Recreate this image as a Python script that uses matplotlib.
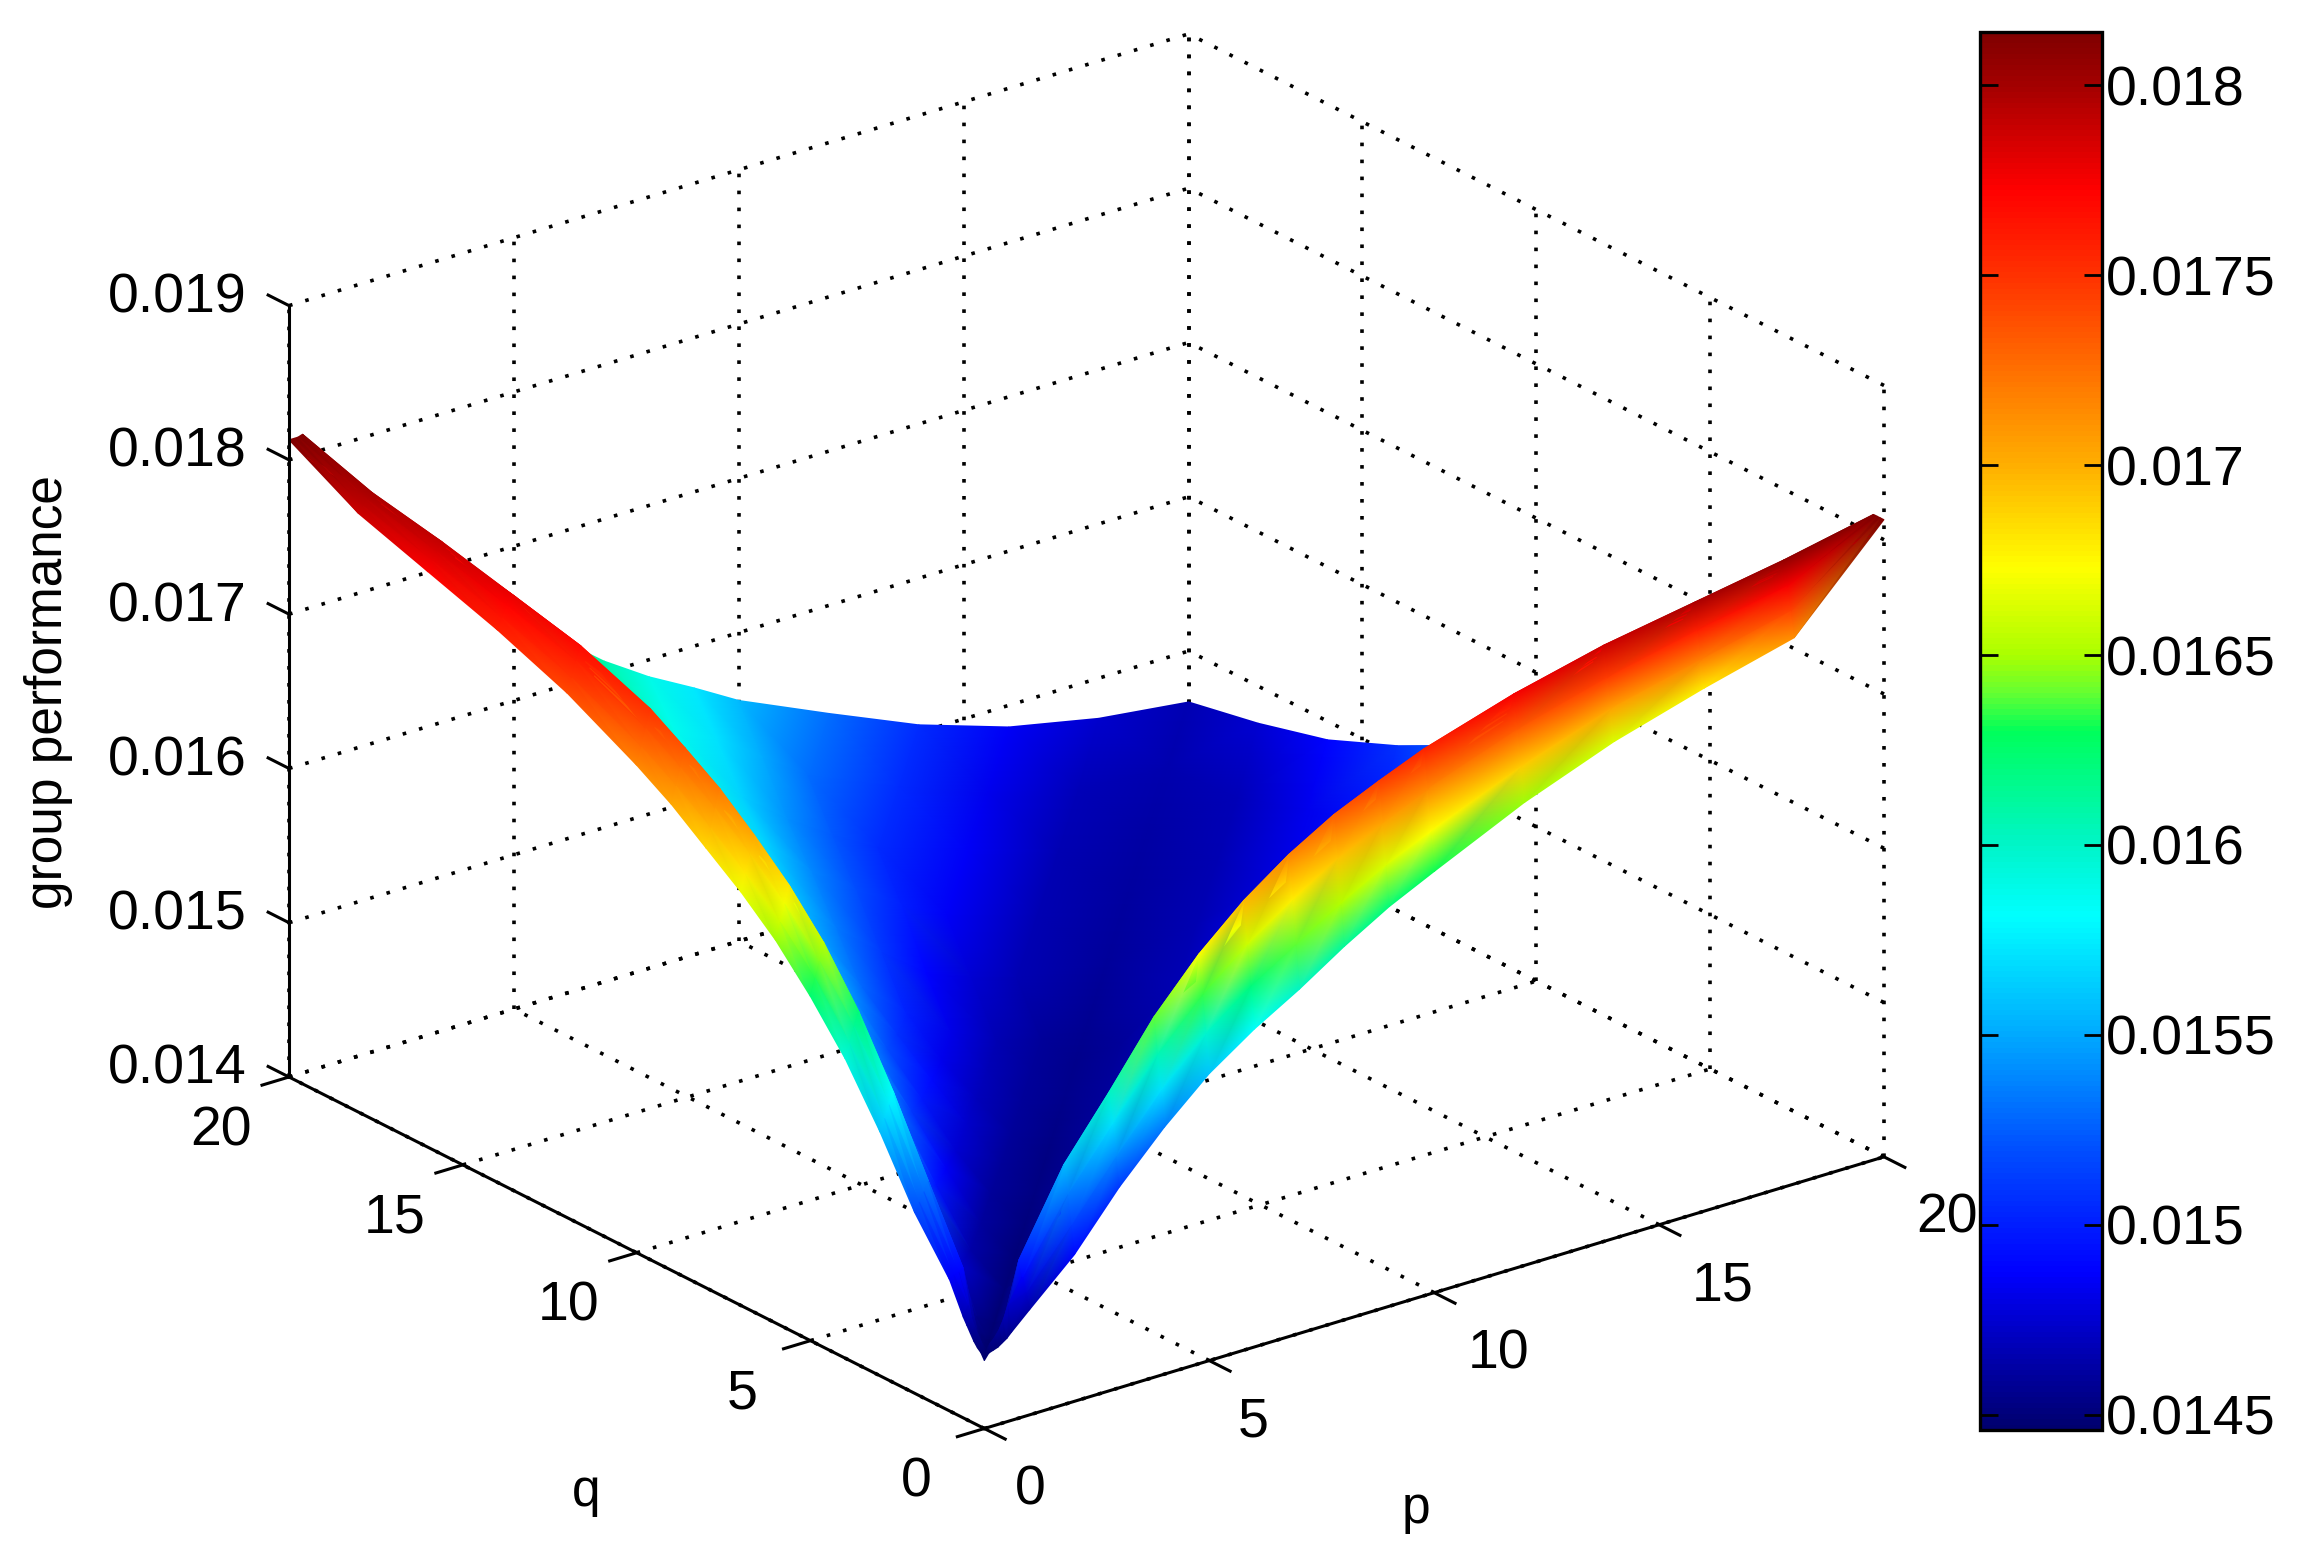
import numpy as np
import matplotlib
matplotlib.use("Agg")
import matplotlib.pyplot as plt
from matplotlib.colors import LinearSegmentedColormap, Normalize
from matplotlib.tri import Triangulation
from mpl_toolkits.mplot3d import proj3d

plt.rcParams['font.family'] = ['Liberation Sans', 'DejaVu Sans']

# grid of p and q, dense near the axes where the ridges are
grid_p = [0, .1, .2, .3, .4, .5, .6, 1, 2, 3, 4, 5, 6, 7, 8, 9, 10, 12, 14, 16, 18, 20]
grid_q = [0, .1, .2, .3, .4, .5, .6, 1, 2, 3, 4, 5, 6, 7, 8, 9, 10, 12, 14, 16, 18, 20]

# group performance, in units of 1e-5, rows are q, columns are p
perf = [
    [1444, 1448, 1449, 1450, 1452, 1454, 1457, 1468, 1495, 1530, 1560, 1586, 1606, 1623, 1642, 1659, 1673, 1700, 1722, 1739, 1754, 1813],
    [1448, 1447, 1452, 1455, 1459, 1465, 1473, 1478, 1513, 1549, 1583, 1611, 1633, 1651, 1669, 1685, 1698, 1722, 1742, 1756, 1770, 1813],
    [1450, 1452, 1447, 1448, 1450, 1453, 1459, 1487, 1532, 1569, 1605, 1635, 1659, 1679, 1697, 1711, 1724, 1745, 1761, 1774, 1785, 1813],
    [1453, 1456, 1448, 1447, 1448, 1449, 1454, 1497, 1550, 1588, 1628, 1660, 1686, 1707, 1724, 1737, 1749, 1767, 1781, 1791, 1801, 1813],
    [1457, 1460, 1450, 1448, 1447, 1448, 1450, 1466, 1517, 1562, 1603, 1641, 1669, 1688, 1706, 1724, 1737, 1757, 1776, 1785, 1794, 1798],
    [1461, 1465, 1453, 1449, 1448, 1447, 1449, 1460, 1509, 1553, 1594, 1632, 1661, 1681, 1699, 1717, 1731, 1752, 1771, 1781, 1790, 1795],
    [1465, 1472, 1459, 1454, 1450, 1449, 1448, 1456, 1501, 1545, 1586, 1624, 1653, 1673, 1693, 1711, 1725, 1746, 1767, 1777, 1787, 1792],
    [1485, 1487, 1488, 1490, 1466, 1460, 1456, 1448, 1474, 1515, 1555, 1593, 1623, 1645, 1666, 1686, 1701, 1726, 1748, 1760, 1771, 1778],
    [1517, 1523, 1529, 1535, 1517, 1509, 1501, 1474, 1449, 1464, 1495, 1529, 1560, 1584, 1608, 1630, 1648, 1677, 1702, 1720, 1734, 1744],
    [1558, 1566, 1574, 1581, 1562, 1553, 1545, 1515, 1464, 1450, 1461, 1485, 1511, 1536, 1559, 1583, 1601, 1634, 1662, 1682, 1700, 1713],
    [1594, 1603, 1613, 1622, 1603, 1594, 1586, 1555, 1495, 1461, 1451, 1460, 1476, 1499, 1520, 1543, 1561, 1597, 1625, 1649, 1669, 1684],
    [1623, 1634, 1644, 1655, 1641, 1632, 1624, 1593, 1529, 1485, 1460, 1452, 1459, 1474, 1491, 1509, 1528, 1561, 1594, 1618, 1639, 1656],
    [1648, 1659, 1670, 1681, 1669, 1661, 1653, 1623, 1560, 1511, 1476, 1459, 1453, 1459, 1470, 1483, 1502, 1534, 1565, 1589, 1613, 1631],
    [1668, 1679, 1691, 1702, 1688, 1681, 1673, 1645, 1584, 1536, 1499, 1474, 1459, 1454, 1459, 1468, 1481, 1510, 1539, 1565, 1587, 1607],
    [1685, 1697, 1709, 1721, 1706, 1699, 1693, 1666, 1608, 1559, 1520, 1491, 1470, 1459, 1455, 1459, 1467, 1488, 1518, 1542, 1567, 1585],
    [1702, 1713, 1724, 1736, 1724, 1717, 1711, 1686, 1630, 1583, 1543, 1509, 1483, 1468, 1459, 1456, 1459, 1476, 1500, 1523, 1545, 1566],
    [1716, 1727, 1738, 1750, 1737, 1731, 1725, 1701, 1648, 1601, 1561, 1528, 1502, 1481, 1467, 1459, 1457, 1467, 1485, 1506, 1527, 1548],
    [1740, 1749, 1759, 1768, 1757, 1752, 1746, 1726, 1677, 1634, 1597, 1561, 1534, 1510, 1488, 1476, 1467, 1459, 1467, 1481, 1496, 1530],
    [1758, 1765, 1772, 1779, 1776, 1771, 1767, 1748, 1702, 1662, 1625, 1594, 1565, 1539, 1518, 1500, 1485, 1467, 1461, 1467, 1483, 1507],
    [1773, 1779, 1784, 1790, 1785, 1781, 1777, 1760, 1720, 1682, 1649, 1618, 1589, 1565, 1542, 1523, 1506, 1486, 1467, 1463, 1468, 1488],
    [1788, 1792, 1795, 1799, 1794, 1790, 1787, 1771, 1734, 1700, 1669, 1639, 1613, 1587, 1570, 1550, 1530, 1505, 1483, 1468, 1465, 1476],
    [1813, 1813, 1813, 1814, 1798, 1795, 1792, 1778, 1744, 1713, 1684, 1656, 1631, 1608, 1589, 1573, 1556, 1530, 1505, 1486, 1474, 1467],
]

# the colour of the front band on the right differs from its height, rows q = 0 to 0.3
band_color_q0 = [1447, 1448, 1449, 1450, 1452, 1454, 1457, 1462, 1490, 1510, 1535, 1560, 1582, 1600, 1612, 1621, 1630, 1648, 1662, 1680, 1712, 1813]
band_color_q1 = [1448, 1447, 1452, 1455, 1459, 1465, 1473, 1475, 1513, 1540, 1570, 1597, 1620, 1639, 1652, 1663, 1672, 1690, 1704, 1719, 1743, 1813]
band_color_q2 = [1450, 1452, 1447, 1448, 1450, 1453, 1459, 1487, 1535, 1570, 1605, 1635, 1659, 1678, 1693, 1704, 1715, 1733, 1746, 1758, 1775, 1813]
band_color_q3 = [1453, 1456, 1448, 1447, 1448, 1449, 1454, 1500, 1558, 1600, 1640, 1672, 1697, 1717, 1733, 1746, 1757, 1775, 1788, 1797, 1806, 1813]

pq_ticks = [0, 5, 10, 15, 20]
z_ticks = [0.014, 0.015, 0.016, 0.017, 0.018, 0.019]
z_labels = ['0.014', '0.015', '0.016', '0.017', '0.018', '0.019']
cbar_ticks = [0.0145, 0.015, 0.0155, 0.016, 0.0165, 0.017, 0.0175, 0.018]
cbar_labels = ['0.0145', '0.015', '0.0155', '0.016', '0.0165', '0.017', '0.0175', '0.018']
c_min, c_max = 0.01446, 0.01814

# colours
cmap_levels = [0.01446, 0.0147, 0.01487, 0.0150, 0.0152, 0.0155, 0.01581, 0.0160, 0.0163, 0.0164, 0.0165, 0.01673, 0.0170, 0.0175, 0.01773, 0.0180, 0.01814]
cmap_colors = ['#00006e', '#0000c0', '#0000ff', '#001eff', '#0050ff', '#00aaff', '#00ffff', '#00f5c8', '#00ff5a', '#64ff32', '#aaff00', '#ffff00', '#ffaf00', '#ff3200', '#ff0000', '#a50000', '#800000']

W, H = 2299, 1565
fig = plt.figure(figsize=(W / 100, H / 100), dpi=100)
ax = fig.add_axes([0, 0, 1, 1], projection='3d', proj_type='ortho')
ax.set_axis_off()
ax.computed_zorder = False
ax.patch.set_alpha(0)
ax.view_init(elev=23, azim=-127.7)
ax.set_box_aspect((1, 1, 0.737))
ax.set_xlim(0, 20)
ax.set_ylim(0, 20)
ax.set_zlim(0.014, 0.019)
ax.set_autoscale_on(False)

span = c_max - c_min
cmap = LinearSegmentedColormap.from_list(
    'ref_jet', [((v - c_min) / span, c) for v, c in zip(cmap_levels, cmap_colors)], N=256)
norm = Normalize(c_min, c_max)

P, Q = np.meshgrid(grid_p, grid_q)
Z = np.array(perf) * 1e-5
C = Z.copy()
C[0] = np.array(band_color_q0) * 1e-5
C[1] = np.array(band_color_q1) * 1e-5
C[2] = np.array(band_color_q2) * 1e-5
C[3] = np.array(band_color_q3) * 1e-5

# the surface, projected with the axes' own projection and shaded per vertex,
# triangles far to near so the ridges hide what is behind them
tx, ty, tz = proj3d.proj_transform(P.ravel(), Q.ravel(), Z.ravel(), ax.get_proj())
nr, nc = Z.shape
tris = []
for i in range(nr - 1):
    for j in range(nc - 1):
        a = i * nc + j
        tris.append([a, a + 1, a + nc + 1])
        tris.append([a, a + nc + 1, a + nc])
tris = np.array(tris)
order = np.argsort(-tz[tris].mean(axis=1))
mesh = ax.tripcolor(Triangulation(tx, ty, tris[order]), C.ravel(), shading='gouraud',
                    cmap=cmap, norm=norm, zorder=2)
mesh.do_3d_projection = lambda: 0

# dotted grid on the floor and the two back walls
dots = dict(color='k', lw=2.6, ls=(0, (1.0, 3.7)), dash_capstyle='butt', zorder=1)
for t in pq_ticks:
    ax.plot([t, t], [0, 20], [0.014, 0.014], **dots)
    ax.plot([0, 20], [t, t], [0.014, 0.014], **dots)
    ax.plot([t, t], [20, 20], [0.014, 0.019], **dots)
    ax.plot([20, 20], [t, t], [0.014, 0.019], **dots)
for z in z_ticks:
    ax.plot([0, 20], [20, 20], [z, z], **dots)
    ax.plot([20, 20], [0, 20], [z, z], **dots)

# axis lines and ticks
solid = dict(color='k', lw=2.2, zorder=3)
ax.plot([0, 20], [0, 0], [0.014, 0.014], **solid)
ax.plot([0, 0], [0, 20], [0.014, 0.014], **solid)
ax.plot([0, 0], [20, 20], [0.014, 0.019], **solid)
for t in pq_ticks:
    ax.plot([t, t], [0, -0.6], [0.014, 0.014], **solid)
    ax.plot([0, -0.6], [t, t], [0.014, 0.014], **solid)
for z in z_ticks:
    ax.plot([0, 0], [20, 20.6], [z, z], **solid)

# fit the square axes box so the floor corners land where they are in the reference
side = 1500.0
target_dx = 1595.0
target_left = (289.0, H - 1077.0)


def to_px(p, q, z):
    x, y, _ = proj3d.proj_transform(p, q, z, ax.get_proj())
    return ax.transData.transform((x, y))


cx, cy = W / 2.0, H / 2.0
for _ in range(3):
    ax.set_position([(cx - side / 2) / W, (cy - side / 2) / H, side / W, side / H])
    ax.apply_aspect()
    left = to_px(0, 20, 0.014)
    right = to_px(20, 0, 0.014)
    side *= target_dx / (right[0] - left[0])
    ax.set_position([(cx - side / 2) / W, (cy - side / 2) / H, side / W, side / H])
    ax.apply_aspect()
    left = to_px(0, 20, 0.014)
    cx += target_left[0] - left[0]
    cy += target_left[1] - left[1]
ax.set_position([(cx - side / 2) / W, (cy - side / 2) / H, side / W, side / H])
ax.apply_aspect()

fs = 40


def label(text, p, q, z, dx, dy, **kw):
    x, y, _ = proj3d.proj_transform(p, q, z, ax.get_proj())
    kw.setdefault('ha', 'center')
    kw.setdefault('fontsize', fs)
    ax.annotate(text, xy=(x, y), xytext=(dx, dy), textcoords='offset pixels',
                va='center', annotation_clip=False, **kw)


for t, dx in zip(pq_ticks, [46, 44, 64, 64, 63]):
    label(str(t), t, 0, 0.014, dx, -62)
for t in pq_ticks:
    label(str(t), 0, t, 0.014, -68, -54)
for z, s in zip(z_ticks, z_labels):
    label(s, 0, 20, z, -42, 7, ha='right')

fig.text(966 * 1.466 / W, 1 - 1030 * 1.466 / H, 'p', fontsize=37, ha='center', va='center')
fig.text(400 * 1.466 / W, 1 - 1018 * 1.466 / H, 'q', fontsize=37, ha='center', va='center')
fig.text(33 * 1.466 / W, 1 - 472 * 1.466 / H, 'group performance', fontsize=37,
         rotation=90, ha='center', va='center')

# colorbar, ticks inside on both edges
cax = fig.add_axes([1980 / W, 1 - 1430 / H, 122 / W, 1398 / H])
sm = plt.cm.ScalarMappable(norm=norm, cmap=cmap)
cb = fig.colorbar(sm, cax=cax)
cb.set_ticks(cbar_ticks)
cb.set_ticklabels(cbar_labels)
cb.outline.set_linewidth(2.4)
cax.tick_params(axis='y', direction='in', left=True, right=True, length=13, width=2,
                labelsize=fs, pad=3)
cb.minorticks_off()

fig.savefig('out.png', dpi=100)
